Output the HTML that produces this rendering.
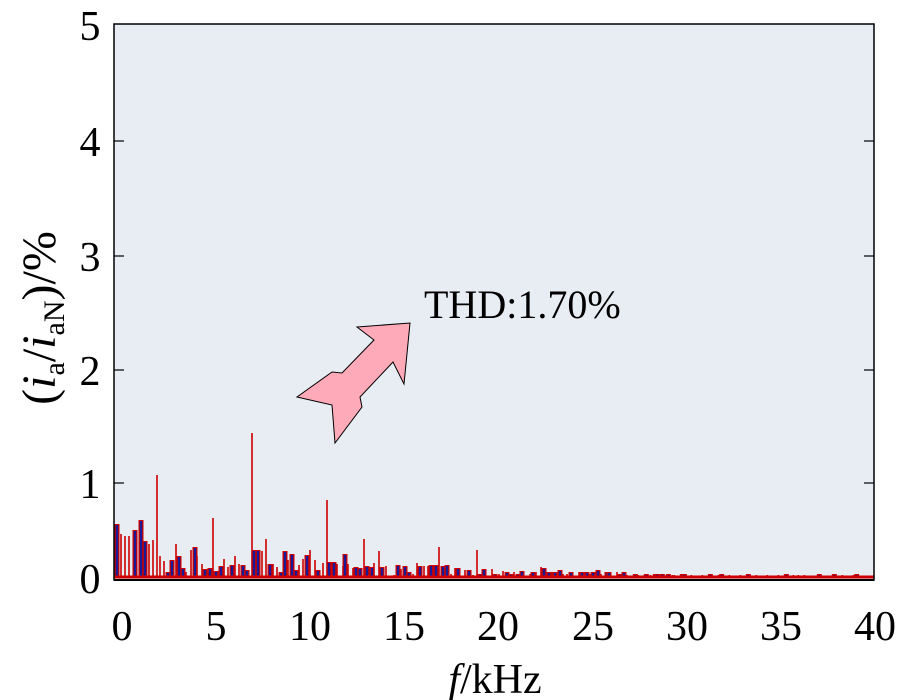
<!DOCTYPE html>
<html><head><meta charset="utf-8"><style>
html,body{margin:0;padding:0;background:#fff;}
svg{display:block;}
text{font-family:"Liberation Serif",serif;fill:#000;}
</style></head><body>
<svg id="s" width="900" height="700" xmlns="http://www.w3.org/2000/svg">
<rect x="114" y="24" width="760" height="556" fill="#e8edf4"/>
<g id="bars"></g>
<line x1="114" y1="577" x2="874" y2="577" stroke="#cc0000" stroke-width="3"/>
<rect x="114" y="24" width="760" height="556" fill="none" stroke="#000" stroke-width="1.5"/>
<line x1="114" y1="580" x2="874" y2="580" stroke="#000" stroke-width="2"/>
<g stroke="#000" stroke-width="1.2">
<line x1="114" y1="141" x2="124" y2="141"/><line x1="114" y1="256" x2="124" y2="256"/>
<line x1="114" y1="370" x2="124" y2="370"/><line x1="114" y1="483" x2="124" y2="483"/>
<line x1="864" y1="141" x2="874" y2="141"/><line x1="864" y1="256" x2="874" y2="256"/>
<line x1="864" y1="370" x2="874" y2="370"/><line x1="864" y1="483" x2="874" y2="483"/>
</g>
<g font-size="42" text-anchor="middle">
<text x="90" y="40">5</text><text x="90" y="156">4</text><text x="90" y="271">3</text>
<text x="90" y="385">2</text><text x="90" y="498">1</text><text x="90" y="593">0</text>
<text x="122" y="640">0</text><text x="216" y="640">5</text><text x="310" y="640">10</text>
<text x="404" y="640">15</text><text x="498" y="640">20</text><text x="593" y="640">25</text>
<text x="687" y="640">30</text><text x="781" y="640">35</text><text x="875" y="640">40</text>
</g>
<text x="495" y="693" font-size="42" text-anchor="middle"><tspan font-style="italic">f</tspan>/kHz</text>
<text transform="translate(55,318) rotate(-90)" font-size="48" text-anchor="middle">(<tspan font-style="italic">i</tspan><tspan font-size="30" dy="9">a</tspan><tspan dy="-9">/</tspan><tspan font-style="italic">i</tspan><tspan font-size="30" dy="9">aN</tspan><tspan dy="-9">)/%</tspan></text>
<polygon points="297,397 332,405 335,443 362,407 360,397 393,362 404,384 410,323 357,327 374,340 342,373 332,372" fill="#ffaab8" stroke="#000" stroke-width="1"/>
<text x="424" y="318" font-size="40">THD:1.70%</text>
</svg>
<script>
var B=[["w",117,524],["t",121,534],["t",125,536],["t",129,536],["w",135,530],["w",141,520],["w",145,541],["t",149,544],["t",153,540],["t",157,475],["t",160,556],["t",164,561],["w",168,572],["w",172,560],["t",176,544],["w",179,556],["w",183,568],["t",186,572],["t",191,550],["w",195,547],["t",197,556],["t",202,564],["w",205,569],["w",210,568],["t",213,518],["w",216,571],["w",221,566],["t",224,559],["t",228,567],["w",232,565],["t",235,556],["t",239,564],["w",243,565],["w",247,570],["t",252,433],["w",254,550],["w",258,550],["t",262,551],["t",266,539],["w",270,564],["t",273,564],["t",277,567],["w",281,572],["w",285,551],["t",288,560],["w",292,554],["w",296,570],["t",299,565],["t",303,559],["w",307,555],["t",310,550],["t",315,560],["w",318,570],["t",323,563],["t",327,500],["w",329,562],["w",334,562],["t",337,564],["t",343,566],["w",345,554],["t",348,564],["t",353,568],["w",356,567],["w",360,568],["t",364,539],["w",367,566],["w",372,567],["t",374,563],["t",379,551],["w",382,567],["t",386,566],["t",394,575],["w",398,565],
["t",401,569],["w",405,566],["w",409,572],["t",413,574],["t",417,563],["w",420,566],["t",424,566],["t",428,566],["w",431,565],["w",436,565],["t",439,547],["w",443,566],["w",447,565],["t",451,574],["t",455,568],["w",458,568],["t",465,570],["w",469,570],["t",473,575],["t",477,550],["w",480,574],["w",484,569],["t",492,569],["w",495,574],["t",499,574],["t",503,571],["w",507,572],["w",511,574],["t",514,572],["w",518,574],["w",522,571],["t",530,574],["w",533,572],["t",536,572],["t",541,567],["w",544,568],["w",549,572],["t",552,572],["w",555,572],["w",560,570],["t",563,574],["t",567,574],["w",571,572],["t",579,572],["w",582,572],["w",587,572],["t",590,574],["w",593,572],["w",598,570],["t",601,574],["w",607,572],["w",609,572],["t",617,572],["w",620,574],["w",624,572],["t",627,575]];
[[736,"w"],[745,"t"],[763,"t"],[769,"w"],[781,"t"],[796,"w"],[802,"w"],[817,"w"],[829,"t"],[835,"w"],[847,"t"],[853,"t"],[877,"w"],[883,"w"],[904,"t"],[937,"t"],[961,"w"],[985,"t"],[995,"w"],[1018,"t"],[1051,"t"],[1075,"w"],[1099,"t"],[1132,"t"],[1165,"t"],[1189,"w"],[1210,"t"],[1225,"t"],[1243,"t"],[1288,"w"],[1333,"w"],[1357,"t"],[1390,"t"],[1400,"w"]].forEach(function(a){B.push([a[1],a[0]/3+390,a[1]=="w"?574:575]);});
var g=document.getElementById("bars"),h="";
B.forEach(function(b){var x=b[1],y=b[2],hh=578-y;
if(b[0]=="w"){h+='<rect x="'+(x-2.5)+'" y="'+y+'" width="5" height="'+hh+'" fill="#cc0000"/><rect x="'+(x-1.2)+'" y="'+(y+1)+'" width="2.4" height="'+(hh-1)+'" fill="#1a1a99"/>';}
else{h+='<rect x="'+(x-0.8)+'" y="'+y+'" width="1.6" height="'+hh+'" fill="#cc0000"/>';}});
g.innerHTML=h;
</script>
</body></html>
